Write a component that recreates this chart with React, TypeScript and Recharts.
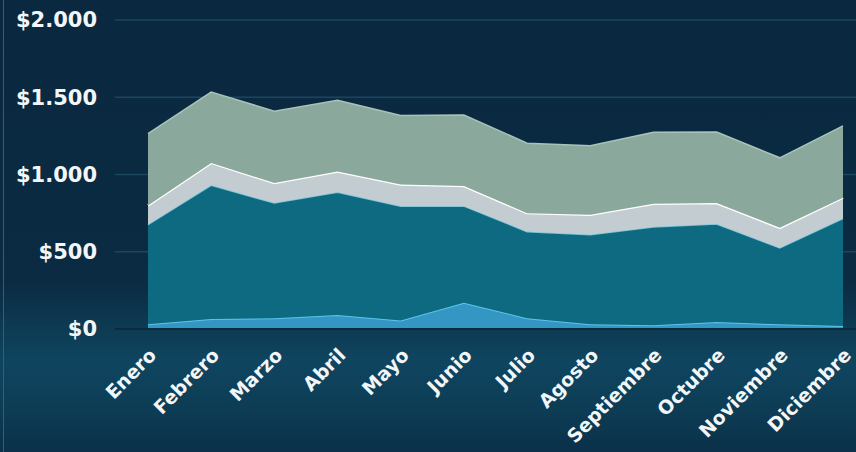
import React from 'react';
import { AreaChart, Area, XAxis, YAxis, CartesianGrid } from 'recharts';

const months = ['Enero', 'Febrero', 'Marzo', 'Abril', 'Mayo', 'Junio', 'Julio', 'Agosto', 'Septiembre', 'Octubre', 'Noviembre', 'Diciembre'];
const serieBase = [30, 65, 70, 90, 55, 170, 70, 30, 25, 45, 30, 20];
const serieTeal = [645, 865, 745, 795, 740, 625, 560, 580, 635, 635, 495, 695];
const serieGris = [125, 145, 130, 135, 140, 130, 120, 130, 150, 135, 130, 135];
const serieSalvia = [465, 458, 465, 460, 447, 460, 453, 446, 463, 460, 453, 465];
const yTicks = [0, 500, 1000, 1500, 2000];

const data = months.map((m, i) => ({
    mes: m,
    base: serieBase[i],
    teal: serieTeal[i],
    gris: serieGris[i],
    salvia: serieSalvia[i],
}));

const font = '"DejaVu Sans", sans-serif';

const formatMoney = (v: number) => '$' + v.toLocaleString('de-DE');

const MonthTick = (props: any) => {
    const { x, y, payload } = props;
    return (
        <g transform={`translate(${x},${y + 10}) rotate(-45)`}>
            <text x={0} y={0} dy="0.7em" textAnchor="end" fill="#f2f6f8" fontSize={19} fontWeight="bold" fontFamily={font}>
                {payload.value}
            </text>
        </g>
    );
};

const App = () => {
    return (
        <div
            style={{
                position: 'fixed',
                top: 0,
                left: 0,
                width: 856,
                height: 452,
                background: 'linear-gradient(180deg, #0a2940 0%, #0a2b42 62%, #0d3a52 72%, #0f4560 80%, #0d3d55 90%, #0a3149 100%)',
                overflow: 'hidden',
            }}
        >
            <div style={{ position: 'absolute', left: 3, top: 0, width: 1, height: 452, background: '#2b6279' }} />
            <AreaChart
                width={856}
                height={452}
                data={data}
                margin={{ top: 20, right: 0, left: 0, bottom: 0 }}
                style={{ position: 'absolute', top: 0, left: 0 }}
            >
                <CartesianGrid vertical={false} stroke="#1a4660" strokeWidth={1.5} />
                <XAxis
                    dataKey="mes"
                    interval={0}
                    height={123}
                    padding={{ left: 33, right: 13 }}
                    tickLine={false}
                    axisLine={{ stroke: '#0a2a3e', strokeWidth: 2 }}
                    tick={<MonthTick />}
                />
                <YAxis
                    width={115}
                    domain={[0, 2000]}
                    ticks={yTicks}
                    tickLine={false}
                    axisLine={false}
                    tickMargin={12}
                    tickFormatter={formatMoney}
                    tick={{ fill: '#f2f6f8', fontSize: 21, fontWeight: 'bold', fontFamily: font }}
                />
                <Area type="linear" dataKey="base" stackId="1" stroke="#5cc4ec" strokeWidth={2} fill="#3497c3" fillOpacity={1} isAnimationActive={false} />
                <Area type="linear" dataKey="teal" stackId="1" stroke="#6fc3db" strokeWidth={1.5} fill="#0d6a80" fillOpacity={1} isAnimationActive={false} />
                <Area type="linear" dataKey="gris" stackId="1" stroke="#ffffff" strokeWidth={2.5} fill="#c3ccd1" fillOpacity={1} isAnimationActive={false} />
                <Area type="linear" dataKey="salvia" stackId="1" stroke="#a9c3ba" strokeWidth={1.5} fill="#8aa89b" fillOpacity={1} isAnimationActive={false} />
            </AreaChart>
        </div>
    );
};

export default App;
